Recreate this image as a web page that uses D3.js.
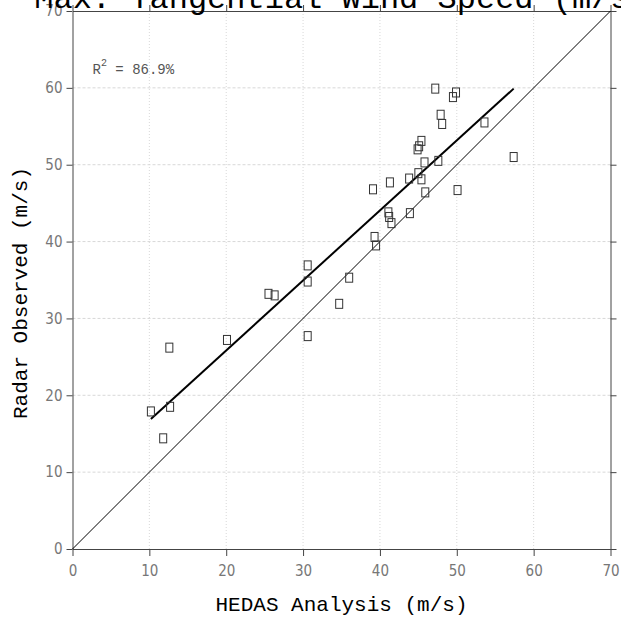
<!DOCTYPE html>
<html>
<head>
<meta charset="utf-8">
<script src="https://cdn.jsdelivr.net/npm/d3@7"></script>
<style>
  body { margin: 0; background: #fff; }
  svg { display: block; }
</style>
</head>
<body>
<svg width="621" height="617"></svg>
<script>
// HEDAS analysis (x) vs radar observed (y), max tangential wind, m/s
var hedas = [10.2, 11.8, 12.7, 12.6, 20.1, 25.5, 26.3, 30.6, 30.6, 30.6,
             34.7, 36.0, 39.1, 39.3, 39.5, 41.1, 41.2, 41.5, 41.3, 43.8,
             43.9, 44.9, 45.1, 45.0, 45.4, 45.4, 45.8, 45.9, 47.2, 47.6,
             47.9, 48.1, 49.5, 49.9, 50.1, 53.6, 57.4];
var radar = [17.9, 14.4, 18.5, 26.2, 27.2, 33.2, 33.0, 36.9, 34.8, 27.7,
             31.9, 35.3, 46.8, 40.6, 39.5, 43.8, 43.2, 42.4, 47.7, 48.2,
             43.7, 52.0, 52.4, 48.9, 53.1, 48.1, 50.3, 46.4, 59.9, 50.5,
             56.5, 55.3, 58.8, 59.4, 46.7, 55.5, 51.0];

// regression line end points and the 1:1 line
var fitX = [10.2, 57.4];
var fitY = [16.9, 59.9];
var oneToOne = [0, 70];

var ticks = [0, 10, 20, 30, 40, 50, 60, 70];
var titleText = "Max. Tangential Wind Speed (m/s)";
var xLabel = "HEDAS Analysis (m/s)";
var yLabel = "Radar Observed (m/s)";
var r2Text = "86.9%";

var svg = d3.select("svg"),
    margin = {top: 11, right: 10.5, bottom: 68, left: 72.5},
    width = +svg.attr("width") - margin.left - margin.right,
    height = +svg.attr("height") - margin.top - margin.bottom;

var g = svg.append("g")
    .attr("transform", "translate(" + margin.left + "," + margin.top + ")");

var x = d3.scaleLinear().domain([0, 70]).range([0, width]);
var y = d3.scaleLinear().domain([0, 70]).range([height, 0]);

var mono = "'Courier New', 'Liberation Mono', monospace";
var tickFont = "'Liberation Sans Narrow', 'DejaVu Sans Condensed', sans-serif";

// grid
g.append("g").selectAll("line")
    .data(ticks.slice(1, -1))
    .enter().append("line")
    .attr("x1", function (d) { return x(d); })
    .attr("x2", function (d) { return x(d); })
    .attr("y1", 0).attr("y2", height)
    .attr("stroke", "#d8d8d8")
    .attr("stroke-dasharray", "1,2");

g.append("g").selectAll("line")
    .data(ticks.slice(1, -1))
    .enter().append("line")
    .attr("y1", function (d) { return y(d); })
    .attr("y2", function (d) { return y(d); })
    .attr("x1", 0).attr("x2", width)
    .attr("stroke", "#d8d8d8")
    .attr("stroke-dasharray", "3,2");

// axes on all four sides
function styleAxis(sel) {
    sel.selectAll(".domain").attr("stroke", "#444");
    sel.selectAll(".tick line").attr("stroke", "#444");
    sel.selectAll("text")
        .attr("fill", "#777")
        .style("font-family", tickFont)
        .style("font-size", "15px");
}

g.append("g")
    .attr("transform", "translate(0," + height + ")")
    .call(d3.axisBottom(x).tickValues(ticks).tickSize(7).tickSizeOuter(0).tickPadding(9))
    .call(styleAxis);

g.append("g")
    .call(d3.axisLeft(y).tickValues(ticks).tickSize(6).tickSizeOuter(0).tickPadding(4))
    .call(styleAxis);

g.append("g")
    .call(d3.axisTop(x).tickValues(ticks).tickSize(6).tickSizeOuter(0).tickFormat(""))
    .call(styleAxis);

g.append("g")
    .attr("transform", "translate(" + width + ",0)")
    .call(d3.axisRight(y).tickValues(ticks).tickSize(6).tickSizeOuter(0).tickFormat(""))
    .call(styleAxis);

// 1:1 line
g.append("line")
    .attr("x1", x(oneToOne[0])).attr("y1", y(oneToOne[0]))
    .attr("x2", x(oneToOne[1])).attr("y2", y(oneToOne[1]))
    .attr("stroke", "#000")
    .attr("stroke-width", 1);

// regression line
g.append("line")
    .attr("x1", x(fitX[0])).attr("y1", y(fitY[0]))
    .attr("x2", x(fitX[1])).attr("y2", y(fitY[1]))
    .attr("stroke", "#000")
    .attr("stroke-width", 2);

// points
var pts = hedas.map(function (d, i) { return {h: d, r: radar[i]}; });

g.selectAll(".pt")
    .data(pts)
    .enter()
    .append("rect")
    .attr("class", "pt")
    .attr("x", function (d) { return x(d.h) - 3.5; })
    .attr("y", function (d) { return y(d.r) - 4.5; })
    .attr("width", 7)
    .attr("height", 9)
    .attr("fill", "none")
    .attr("stroke", "#333")
    .attr("stroke-width", 1);

// R^2 annotation
var r2 = g.append("text")
    .attr("x", 20)
    .attr("y", 63)
    .attr("fill", "#555")
    .style("font-family", mono)
    .style("font-size", "14px");
r2.append("tspan").text("R");
r2.append("tspan").attr("dy", -8).style("font-size", "10px").text("2");
r2.append("tspan").attr("dy", 8).text(" = " + r2Text);

// labels
svg.append("text")
    .attr("x", margin.left + width / 2)
    .attr("y", 8)
    .attr("text-anchor", "middle")
    .attr("fill", "#000")
    .style("font-family", mono)
    .style("font-size", "32px")
    .text(titleText);

svg.append("text")
    .attr("x", margin.left + width / 2)
    .attr("y", 611)
    .attr("text-anchor", "middle")
    .attr("fill", "#000")
    .style("font-family", mono)
    .style("font-size", "21px")
    .text(xLabel);

svg.append("text")
    .attr("transform", "translate(27," + 293 + ")rotate(-90)")
    .attr("text-anchor", "middle")
    .attr("fill", "#000")
    .style("font-family", mono)
    .style("font-size", "21px")
    .text(yLabel);
</script>
</body>
</html>
